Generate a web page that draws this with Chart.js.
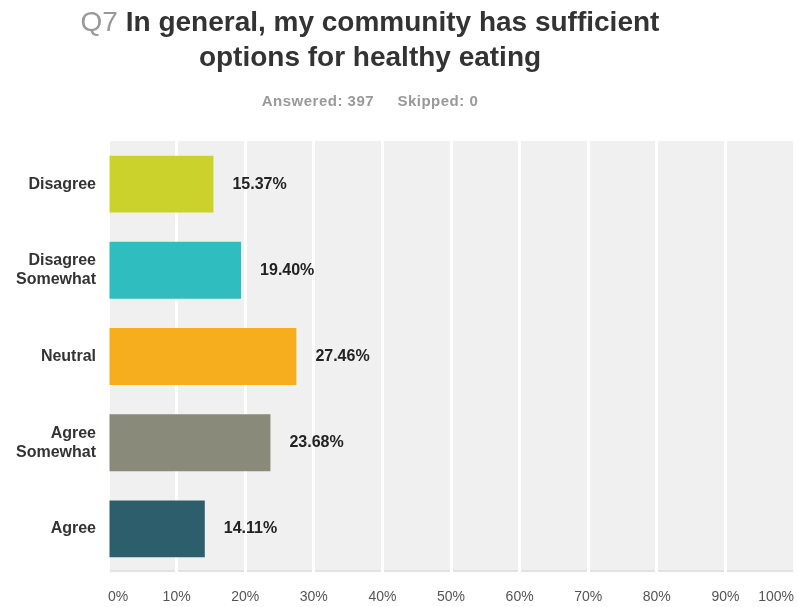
<!DOCTYPE html>
<html>
<head>
<meta charset="utf-8">
<script src="https://cdn.jsdelivr.net/npm/chart.js@4.4.1/dist/chart.umd.min.js"></script>
<style>
  html, body { margin:0; padding:0; background:#fff; }
  #wrap { position:relative; width:798px; height:607px; overflow:hidden; }
  canvas { position:absolute; left:0; top:0; }
  .t { position:absolute; left:0; width:740px; text-align:center; font-family:"Liberation Sans", Arial, sans-serif; white-space:nowrap; }
  #t1 { top:5px; font-size:28px; font-weight:bold; color:#333; line-height:34px; }
  #t1 .q { color:#999; font-weight:normal; }
  #t2 { top:40px; font-size:28px; font-weight:bold; color:#333; line-height:34px; }
  #sub { top:92px; font-size:15px; font-weight:bold; color:#999; line-height:18px; letter-spacing:0.5px; }
</style>
</head>
<body>
<div id="wrap">
  <canvas id="c" width="798" height="607"></canvas>
  <div class="t" id="t1"><span class="q">Q7</span> In general, my community has sufficient</div>
  <div class="t" id="t2">options for healthy eating</div>
  <div class="t" id="sub">Answered: 397&nbsp;&nbsp;&nbsp;&nbsp;&nbsp;Skipped: 0</div>
</div>
<script>
const categories = [["Disagree"], ["Disagree", "Somewhat"], ["Neutral"], ["Agree", "Somewhat"], ["Agree"]];
const values = [15.37, 19.40, 27.46, 23.68, 14.11];
const barColors = ["#cbd22b", "#30bdbf", "#f6ad1e", "#8a8a7a", "#2c5e6b"];
const xTicks = [0, 10, 20, 30, 40, 50, 60, 70, 80, 90, 100];

const bgPlugin = {
  id: 'plotBg',
  beforeDraw(chart) {
    const a = chart.chartArea, ctx = chart.ctx;
    ctx.save();
    ctx.fillStyle = '#f0f0f0';
    ctx.fillRect(a.left, a.top, a.right - a.left, a.bottom - a.top);
    ctx.fillStyle = '#e2e2e2';
    ctx.fillRect(a.left, a.bottom - 2, a.right - a.left, 2);
    ctx.restore();
  }
};
const labelPlugin = {
  id: 'valLabels',
  afterDatasetsDraw(chart) {
    const ctx = chart.ctx;
    const meta = chart.getDatasetMeta(0);
    ctx.save();
    ctx.font = 'bold 16px "Liberation Sans", Arial, sans-serif';
    ctx.fillStyle = '#222';
    ctx.textAlign = 'left';
    ctx.textBaseline = 'middle';
    meta.data.forEach((bar, i) => {
      ctx.fillText(values[i].toFixed(2) + '%', bar.x + 19, bar.y);
    });
    ctx.restore();
  }
};

new Chart(document.getElementById('c'), {
  type: 'bar',
  data: {
    labels: categories,
    datasets: [{
      data: values,
      backgroundColor: barColors,
      borderWidth: 0,
      categoryPercentage: 1.0,
      barPercentage: 0.66
    }]
  },
  options: {
    indexAxis: 'y',
    responsive: false,
    animation: false,
    devicePixelRatio: 1,
    layout: { padding: { top: 141, right: 4, left: 0, bottom: 0 } },
    plugins: { legend: { display: false }, tooltip: { enabled: false }, title: { display: false } },
    scales: {
      x: {
        min: 0, max: 100,
        afterBuildTicks(scale) { scale.ticks = xTicks.map(v => ({ value: v })); },
        afterFit(scale) { scale.height = 35; scale.paddingLeft = 0; scale.paddingRight = 0; },
        grid: { color: '#ffffff', lineWidth: 3, drawTicks: false },
        border: { display: false },
        ticks: {
          align: 'inner',
          padding: 17,
          color: '#555',
          font: { family: '"Liberation Sans", Arial, sans-serif', size: 14 },
          callback: v => v + '%'
        }
      },
      y: {
        afterFit(scale) { scale.width = 108; scale.paddingTop = 0; scale.paddingBottom = 0; },
        grid: { display: false, drawTicks: false },
        border: { display: false },
        ticks: {
          padding: 12,
          color: '#333',
          font: { family: '"Liberation Sans", Arial, sans-serif', size: 16, weight: 'bold', lineHeight: 1.2 }
        }
      }
    }
  },
  plugins: [bgPlugin, labelPlugin]
});
</script>
</body>
</html>
